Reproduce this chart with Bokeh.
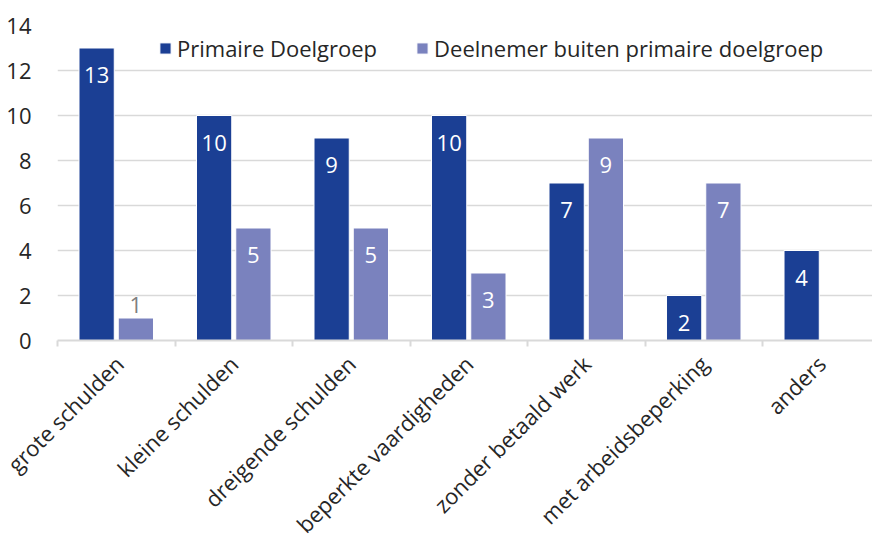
from bokeh.plotting import figure
from bokeh.models import ColumnDataSource, Range1d, FixedTicker, Legend, LegendItem
from bokeh.core.properties import value
from bokeh.embed import file_html
from bokeh.resources import INLINE
import math

categories = ["grote schulden", "kleine schulden", "dreigende schulden",
              "beperkte vaardigheden", "zonder betaald werk",
              "met arbeidsbeperking", "anders"]
primaire = [13, 10, 9, 10, 7, 2, 4]
buiten = [1, 5, 5, 3, 9, 7, 0]
series_names = ["Primaire Doelgroep", "Deelnemer buiten primaire doelgroep"]
y_ticks = [0, 2, 4, 6, 8, 10, 12, 14]

DARK = "#1B3F94"
LIGHT = "#7A82BE"
FONT = "Open Sans"
FS = "22px"

centers = [i + 0.5 for i in range(len(categories))]
off = 0.167
bw = 0.3

p = figure(width=872, height=560, output_backend="svg", toolbar_location=None,
           x_range=Range1d(0, 6.936), y_range=Range1d(0, 14),
           min_border_left=57, min_border_right=0, min_border_top=25,
           min_border_bottom=220)
p.outline_line_color = None
p.background_fill_color = "white"
p.border_fill_color = "white"

def make_src(vals, dx):
    xs = [c + dx for c in centers]
    inside = [v >= 2 for v in vals]
    labels = [str(v) if v > 0 else "" for v in vals]
    colors = ["white" if ins else "#7F7F7F" for ins in inside]
    yoff = [27 if ins else -13 for ins in inside]
    return ColumnDataSource(dict(x=xs, top=vals, label=labels, color=colors, yoff=yoff))

s1 = make_src(primaire, -off)
s2 = make_src(buiten, off)

r1 = p.vbar(x="x", top="top", width=bw, source=s1, fill_color=DARK, line_color="white", line_width=1)
r2 = p.vbar(x="x", top="top", width=bw, source=s2, fill_color=LIGHT, line_color="white", line_width=1)

for s in (s1, s2):
    p.text(x="x", y="top", text="label", source=s, text_color="color",
           text_align="center", text_baseline="middle", y_offset="yoff",
           text_font=value(FONT), text_font_size=FS)

# axes
p.xaxis.ticker = FixedTicker(ticks=centers, minor_ticks=list(range(len(categories) + 1)))
p.xaxis.major_label_overrides = {c: lab for c, lab in zip(centers, categories)}
p.xaxis.major_label_orientation = math.pi / 4
p.xaxis.major_tick_line_color = None
p.xaxis.minor_tick_line_color = "#D9D9D9"
p.xaxis.minor_tick_out = 6
p.xaxis.minor_tick_in = 0
p.xaxis.minor_tick_line_width = 2
p.xaxis.axis_line_color = "#D9D9D9"
p.xaxis.axis_line_width = 2
p.xaxis.major_label_text_font = FONT
p.xaxis.major_label_text_font_size = FS
p.xaxis.major_label_text_color = "#262626"
p.xaxis.major_label_standoff = 13

p.yaxis.ticker = FixedTicker(ticks=y_ticks)
p.yaxis.axis_line_color = None
p.yaxis.major_tick_line_color = None
p.yaxis.minor_tick_line_color = None
p.yaxis.major_label_text_font = FONT
p.yaxis.major_label_text_font_size = FS
p.yaxis.major_label_text_color = "#262626"
p.yaxis.major_label_standoff = 20

p.xgrid.grid_line_color = None
p.ygrid.grid_line_color = "#D9D9D9"
p.ygrid.grid_line_width = 1.5
p.ygrid.ticker = FixedTicker(ticks=y_ticks)

legend = Legend(items=[LegendItem(label=series_names[0], renderers=[r1]),
                       LegendItem(label=series_names[1], renderers=[r2])],
                orientation="horizontal", location=(101, 277))
legend.padding = 4
legend.margin = 0
legend.spacing = 38
legend.glyph_width = 14
legend.glyph_height = 14
legend.label_standoff = 5
legend.label_text_font = FONT
legend.label_text_font_size = FS
legend.label_text_color = "#262626"
legend.border_line_color = None
legend.background_fill_alpha = 0
p.add_layout(legend, "center")

open("out.html", "w").write(file_html(p, INLINE))
